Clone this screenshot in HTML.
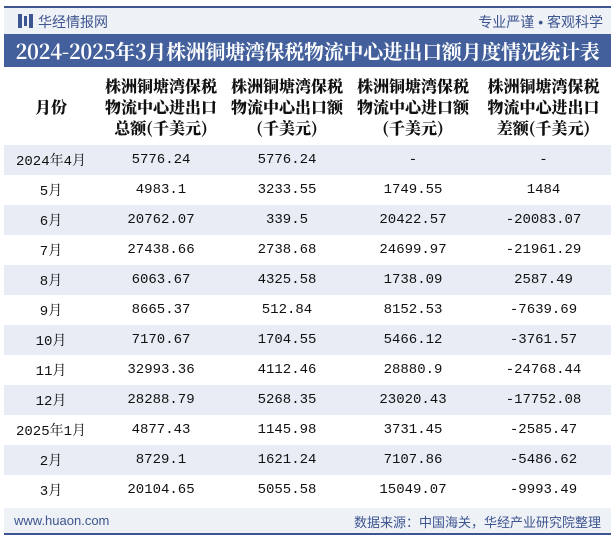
<!DOCTYPE html>
<html><head><meta charset="utf-8"><style>
body{margin:0;width:615px;height:540px;background:#fff;font-family:"Liberation Sans","Noto Sans CJK SC",sans-serif;position:relative;overflow:hidden}
.abs{position:absolute}
#top{left:4px;top:6px;width:607px;height:2px;background:#3d5590}
#hdr{left:4px;top:8px;width:607px;height:26px;background:#eef1f6}
#title{left:4px;top:34px;width:607px;height:33px;background:#43609c;color:#fff;font-family:"Noto Serif CJK SC",serif;font-weight:bold;font-size:20px;line-height:33px;text-align:center;white-space:nowrap;letter-spacing:-0.3px}
#tbl{left:4px;top:68px;width:607px;border-collapse:collapse;font-family:"Liberation Mono","Noto Serif CJK SC",monospace;font-size:14px;color:#111}
#tbl th{height:77px;font-family:"Noto Serif CJK SC",serif;font-size:16px;line-height:21px;font-weight:900;padding:0;white-space:nowrap}
#tbl td{height:30px;text-align:center;padding:0}
#tbl tr.s td{background:#e8ecf4}
#foot{left:4px;top:508px;width:607px;height:25px;background:#eef1f6}
#bot{left:4px;top:533px;width:607px;height:2px;background:#3d5590}
</style></head><body>
<div class="abs" id="top"></div>
<div class="abs" id="hdr">
<div class="abs" style="left:14px;top:6px;width:4px;height:14px;background:#3d5590"></div>
<div class="abs" style="left:20px;top:8px;width:3px;height:10px;background:#3d5590"></div>
<div class="abs" style="left:25px;top:6px;width:4px;height:14px;background:#3d5590"></div>
<div class="abs" style="left:34px;top:4px;font-size:14px;color:#3d5590">华经情报网</div>
<div class="abs" style="right:8px;top:4px;font-size:14px;color:#3d5590">专业严谨 • 客观科学</div>
</div>
<div class="abs" id="title">2024-2025年3月株洲铜塘湾保税物流中心进出口额月度情况统计表</div>
<table class="abs" id="tbl">
<colgroup><col style="width:94px"><col style="width:126px"><col style="width:126px"><col style="width:126px"><col style="width:135px"></colgroup>
<tr><th>月份</th><th>株洲铜塘湾保税<br>物流中心进出口<br>总额(千美元)</th><th>株洲铜塘湾保税<br>物流中心出口额<br>(千美元)</th><th>株洲铜塘湾保税<br>物流中心进口额<br>(千美元)</th><th>株洲铜塘湾保税<br>物流中心进出口<br>差额(千美元)</th></tr>
<tbody id="body"></tbody>
</table>
<div class="abs" id="foot">
<div class="abs" style="left:10px;top:5px;font-size:13px;color:#3d5590">www.huaon.com</div>
<div class="abs" style="right:10px;top:4px;font-size:13px;color:#3d5590">数据来源：中国海关，华经产业研究院整理</div>
</div>
<div class="abs" id="bot"></div>
<script>
const months=["2024年4月","5月","6月","7月","8月","9月","10月","11月","12月","2025年1月","2月","3月"];
const totals=["5776.24","4983.1","20762.07","27438.66","6063.67","8665.37","7170.67","32993.36","28288.79","4877.43","8729.1","20104.65"];
const exportsV=["5776.24","3233.55","339.5","2738.68","4325.58","512.84","1704.55","4112.46","5268.35","1145.98","1621.24","5055.58"];
const importsV=["-","1749.55","20422.57","24699.97","1738.09","8152.53","5466.12","28880.9","23020.43","3731.45","7107.86","15049.07"];
const balances=["-","1484","-20083.07","-21961.29","2587.49","-7639.69","-3761.57","-24768.44","-17752.08","-2585.47","-5486.62","-9993.49"];
const body=document.getElementById('body');
months.forEach((m,i)=>{
const tr=document.createElement('tr');


if(i%2===0)tr.className='s';
[m,totals[i],exportsV[i],importsV[i],balances[i]].forEach(v=>{const td=document.createElement('td');td.textContent=v;tr.appendChild(td);});
body.appendChild(tr);
});
</script>
</body></html>
